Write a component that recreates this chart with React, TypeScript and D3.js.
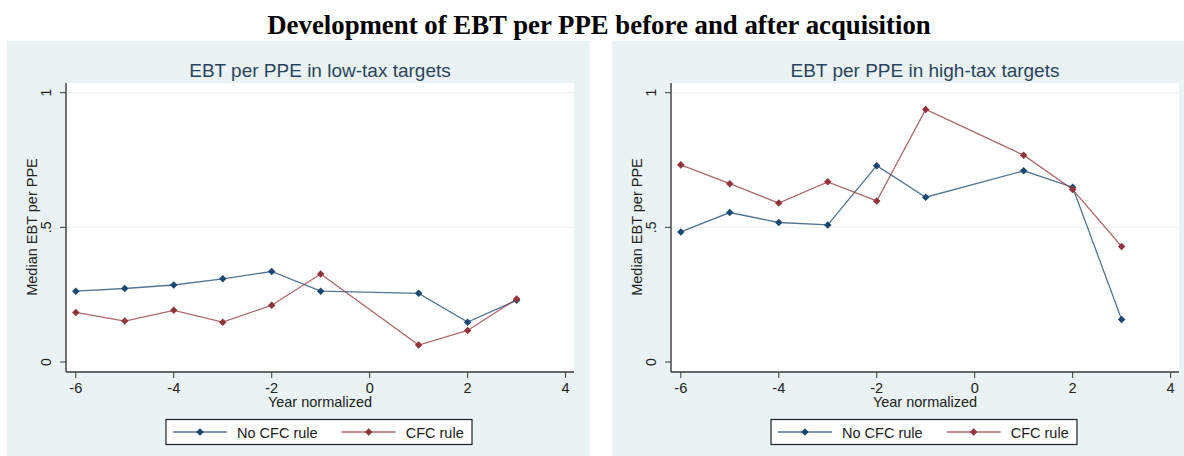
import * as d3 from 'd3';
import React from 'react';

// values (median EBT per PPE by normalized year)
const years = [-6, -5, -4, -3, -2, -1, 1, 2, 3];
const lowNoCfc = [0.263, 0.273, 0.286, 0.309, 0.336, 0.263, 0.255, 0.148, 0.229];
const lowCfc = [0.184, 0.152, 0.192, 0.148, 0.211, 0.327, 0.063, 0.117, 0.234];
const highNoCfc = [0.483, 0.555, 0.518, 0.509, 0.729, 0.612, 0.710, 0.649, 0.158];
const highCfc = [0.732, 0.662, 0.590, 0.669, 0.598, 0.938, 0.768, 0.641, 0.429];

const xTicks = [-6, -4, -2, 0, 2, 4];
const yTicks = [0, 0.5, 1];
const yTickLabels = ['0', '.5', '1'];
const gridValues = [0.5, 1];
const seriesNames = ['No CFC rule', 'CFC rule'];

const params = {
  panelOffset: 605,
  bgX: 7,
  bgW: 583,
  bgY: 41,
  bgH: 415,
  plotL: 66,
  plotR: 574,
  plotT: 83,
  plotB: 372,
  bg: '#eaf2f3',
  navy: '#1a476f',
  maroon: '#90353b',
  sans: 'Arial, "Liberation Sans", sans-serif',
};

const colors = [params.navy, params.maroon];
const diamond = d3.symbol(d3.symbolDiamond2, 36)();

function Panel({ offset, title, series }) {
  const x = d3.scaleLinear().domain([-6, 4]).range([75.8, 565.6]);
  const y = d3.scaleLinear().domain([0, 1]).range([362, 92.7]);
  const line = d3.line().x(d => x(d[0])).y(d => y(d[1]));
  const midX = (params.plotL + params.plotR) / 2;

  return (
    <g transform={`translate(${offset},0)`}>
      <rect x={params.bgX} y={params.bgY} width={params.bgW} height={params.bgH} fill={params.bg} />
      <rect x={params.plotL} y={params.plotT} width={params.plotR - params.plotL}
        height={params.plotB - params.plotT} fill="#fff" />
      <text x={midX} y={77} textAnchor="middle" fontFamily={params.sans} fontSize={19}
        fill="#2a4460">{title}</text>

      {gridValues.map(v => (
        <line key={v} x1={params.plotL} x2={params.plotR} y1={y(v)} y2={y(v)}
          stroke={params.bg} strokeWidth={1} />
      ))}

      {/* axes */}
      <line x1={params.plotL} x2={params.plotL} y1={params.plotT} y2={params.plotB}
        stroke="#3a3a3a" strokeWidth={1.4} />
      <line x1={params.plotL} x2={params.plotR} y1={params.plotB} y2={params.plotB}
        stroke="#3a3a3a" strokeWidth={1.4} />
      {yTicks.map((v, i) => (
        <g key={v}>
          <line x1={params.plotL - 6} x2={params.plotL} y1={y(v)} y2={y(v)} stroke="#3a3a3a" strokeWidth={1} />
          <text transform={`translate(51,${y(v)}) rotate(-90)`} textAnchor="middle"
            fontFamily={params.sans} fontSize={14} fill="#222">{yTickLabels[i]}</text>
        </g>
      ))}
      {xTicks.map(v => (
        <g key={v}>
          <line x1={x(v)} x2={x(v)} y1={params.plotB} y2={params.plotB + 6} stroke="#3a3a3a" strokeWidth={1} />
          <text x={x(v)} y={393} textAnchor="middle" fontFamily={params.sans} fontSize={14.5}
            fill="#222">{v}</text>
        </g>
      ))}
      <text x={midX} y={407} textAnchor="middle" fontFamily={params.sans} fontSize={14.5}
        fill="#222">Year normalized</text>
      <text transform={`translate(37,227) rotate(-90)`} textAnchor="middle"
        fontFamily={params.sans} fontSize={14.5} fill="#222">Median EBT per PPE</text>

      {/* series */}
      {series.map((vals, si) => {
        const pts = years.map((yr, i) => [yr, vals[i]]);
        return (
          <g key={si}>
            <path d={line(pts)} fill="none" stroke={colors[si]} strokeWidth={1.3} strokeOpacity={0.75} />
            {pts.map((p, i) => (
              <path key={i} d={diamond} transform={`translate(${x(p[0])},${y(p[1])})`} fill={colors[si]} />
            ))}
          </g>
        );
      })}

      {/* legend */}
      <rect x={166} y={419.5} width={306} height={25} fill="#fff" stroke="#222" strokeWidth={1.2} />
      {seriesNames.map((name, i) => {
        const lx = 173 + i * 168.7;
        return (
          <g key={name}>
            <line x1={lx} x2={lx + 54} y1={432} y2={432} stroke={colors[i]} strokeWidth={1.3} strokeOpacity={0.75} />
            <path d={diamond} transform={`translate(${lx + 27},432)`} fill={colors[i]} />
            <text x={lx + 64} y={437.5} fontFamily={params.sans} fontSize={14.5} fill="#222">{name}</text>
          </g>
        );
      })}
    </g>
  );
}

export default function App() {
  return (
    <div style={{ position: 'absolute', left: 0, top: 0 }}>
      <svg width={1184} height={456} style={{ display: 'block', background: '#fff' }}>
        <text x={599} y={34} textAnchor="middle" fontFamily='"Times New Roman", "Liberation Serif", serif'
          fontWeight="bold" fontSize={26.8} fill="#000">
          Development of EBT per PPE before and after acquisition
        </text>
        <Panel offset={0} title="EBT per PPE in low-tax targets" series={[lowNoCfc, lowCfc]} />
        <Panel offset={params.panelOffset} title="EBT per PPE in high-tax targets" series={[highNoCfc, highCfc]} />
      </svg>
    </div>
  );
}
